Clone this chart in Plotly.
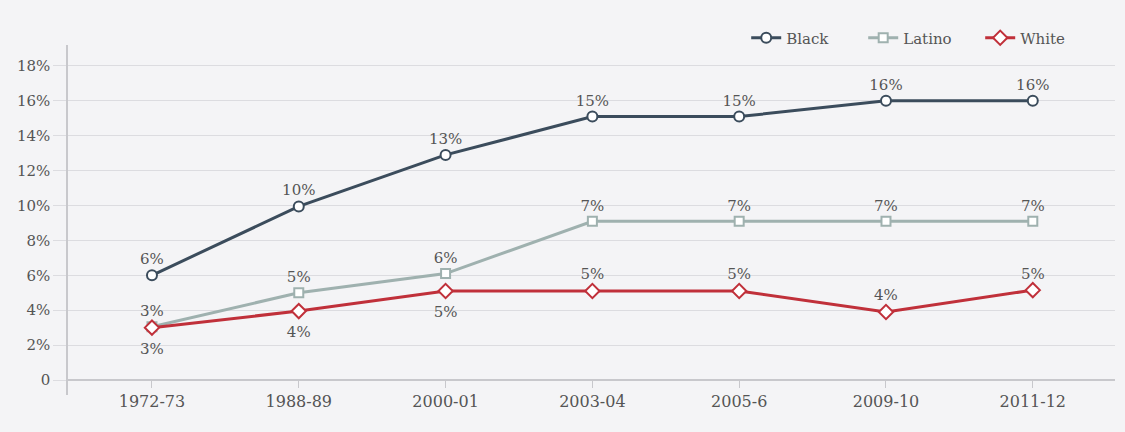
import plotly.graph_objects as go

categories = ["1972-73", "1988-89", "2000-01", "2003-04", "2005-6", "2009-10", "2011-12"]

black_vals = [6.0, 9.95, 12.9, 15.1, 15.1, 16.0, 16.0]
latino_vals = [3.05, 5.0, 6.1, 9.1, 9.1, 9.1, 9.1]
white_vals = [3.0, 3.95, 5.1, 5.1, 5.1, 3.9, 5.15]

black_labels = ["6%", "10%", "13%", "15%", "15%", "16%", "16%"]
latino_labels = ["3%", "5%", "6%", "7%", "7%", "7%", "7%"]
white_labels = ["3%", "4%", "5%", "5%", "5%", "4%", "5%"]
white_label_pos = ["bottom center", "bottom center", "bottom center",
                   "top center", "top center", "top center", "top center"]

y_ticks = [0, 2, 4, 6, 8, 10, 12, 14, 16, 18]
y_ticktext = ["0", "2%", "4%", "6%", "8%", "10%", "12%", "14%", "16%", "18%"]

BG = "#f4f4f6"
FONT = "DejaVu Serif"
TXT = "#555555"

fig = go.Figure()

series = [
    ("Black", black_vals, black_labels, "top center", "#3b4c5c", "circle", 10),
    ("Latino", latino_vals, latino_labels, "top center", "#9fb1af", "square", 9),
    ("White", white_vals, white_labels, white_label_pos, "#c0303a", "diamond", 11),
]

for name, vals, labels, pos, color, sym, msize in series:
    fig.add_trace(go.Scatter(
        x=categories, y=vals, name=name,
        mode="lines+markers",
        line=dict(color=color, width=3),
        marker=dict(symbol=sym, size=msize, color="white",
                    line=dict(color=color, width=2)),
        cliponaxis=False,
    ))
    # data labels (invisible marker sets the label gap from the point)
    gap = [22 if p == "bottom center" else msize
           for p in (pos if isinstance(pos, list) else [pos] * len(vals))]
    fig.add_trace(go.Scatter(
        x=categories, y=vals, showlegend=False, hoverinfo="skip",
        mode="markers+text",
        text=labels, textposition=pos,
        textfont=dict(family=FONT, size=15, color=TXT),
        marker=dict(size=gap, opacity=0),
        cliponaxis=False,
    ))

fig.update_layout(
    width=1125, height=432,
    paper_bgcolor=BG, plot_bgcolor=BG,
    margin=dict(l=68, r=10, t=45, b=37),
    font=dict(family=FONT, size=15, color=TXT),
    showlegend=True,
    legend=dict(orientation="h", xanchor="right", x=0.983,
                yanchor="middle", y=1.02, bgcolor="rgba(0,0,0,0)",
                font=dict(family=FONT, size=15, color=TXT),
                traceorder="normal", itemwidth=30,
                entrywidth=72, entrywidthmode="pixels"),
    xaxis=dict(
        type="category", range=[-0.572, 6.56],
        anchor="free", position=15 / 350,
        showline=True, linecolor="#c8c8cc", linewidth=1.5,
        showgrid=False, zeroline=False,
        ticks="outside", ticklen=7, tickcolor="#c8c8cc",
        tickfont=dict(family=FONT, size=16, color=TXT),
    ),
    yaxis=dict(
        range=[-0.86, 19.2],
        tickvals=y_ticks, ticktext=y_ticktext,
        showline=True, linecolor="#c8c8cc", linewidth=1.5,
        showgrid=True, gridcolor="#dcdce0", gridwidth=1,
        zeroline=False,
        ticks="outside", ticklen=13, tickcolor="#dcdce0",
        tickfont=dict(family=FONT, size=15, color=TXT),
    ),
)

fig.write_html("out.html")
